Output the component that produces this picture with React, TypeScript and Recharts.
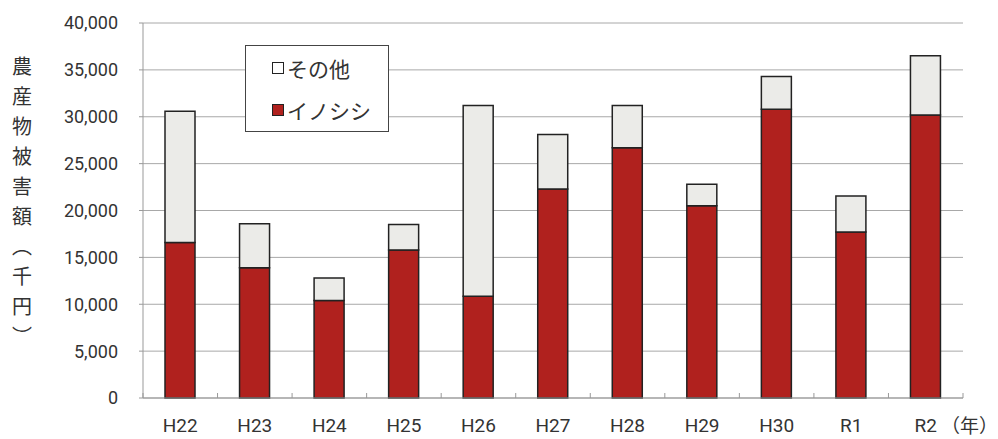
import {
  BarChart,
  Bar,
  XAxis,
  YAxis,
  CartesianGrid,
} from "recharts";

const years = ["H22", "H23", "H24", "H25", "H26", "H27", "H28", "H29", "H30", "R1", "R2"];
const inoshishi = [16600, 13900, 10400, 15800, 10850, 22300, 26700, 20500, 30800, 17700, 30200];
const others = [14000, 4700, 2400, 2700, 20350, 5800, 4500, 2300, 3500, 3850, 6300];
const yTicks = [0, 5000, 10000, 15000, 20000, 25000, 30000, 35000, 40000];

const data = years.map((name, i) => ({
  name,
  inoshishi: inoshishi[i],
  other: others[i],
}));

const RED = "#b0211e";
const GRAY = "#ebebe8";
const EDGE = "#222";
const AXIS = "#999";
const NUM_FONT = "Roboto, 'Noto Sans CJK JP', sans-serif";
const JP_FONT = "'Noto Sans CJK JP', sans-serif";

const W = 998;
const H = 439;
const MARGIN = { top: 23, right: 35, bottom: 0, left: 83 };
const Y_AXIS_W = 60;
const STEP = (W - MARGIN.left - MARGIN.right - Y_AXIS_W) / years.length;

const legendItems = [
  { label: "その他", fill: "#fff" },
  { label: "イノシシ", fill: RED },
];

const LegendBox = () => (
  <div
    style={{
      position: "absolute",
      left: 245,
      top: 45,
      width: 144,
      height: 87,
      border: "1px solid #444",
      background: "#fff",
      fontFamily: JP_FONT,
      fontSize: 21,
      color: "#333",
      boxSizing: "border-box",
      padding: "8px 0 0 26px",
    }}
  >
    {legendItems.map((item, i) => (
      <div
        key={item.label}
        style={{ display: "flex", alignItems: "center", height: 28, marginTop: i ? 14 : 0 }}
      >
        <span
          style={{
            display: "inline-block",
            width: 10,
            height: 10,
            border: "1.5px solid #222",
            background: item.fill,
            marginRight: 3,
          }}
        />
        {item.label}
      </div>
    ))}
  </div>
);

// year label plus the small upward marks at the category edges
const YearTick = ({ x, y, payload, index }: any) => {
  const axisY = y - 18;
  const left = x - STEP / 2;
  return (
    <g>
      <line x1={left} x2={left} y1={axisY} y2={axisY - 5} stroke={AXIS} />
      {index === years.length - 1 && (
        <line x1={left + STEP} x2={left + STEP} y1={axisY} y2={axisY - 5} stroke={AXIS} />
      )}
      <text
        x={x}
        y={y + 16}
        textAnchor="middle"
        fontFamily={NUM_FONT}
        fontSize={19}
        fill="#333"
      >
        {payload.value}
      </text>
    </g>
  );
};

export default function App() {
  return (
    <div style={{ position: "absolute", left: 0, top: 0, width: W, height: H, background: "#fff" }}>
      <BarChart width={W} height={H} data={data} margin={MARGIN} barSize={30}>
        <CartesianGrid vertical={false} stroke="#a8a8a8" strokeWidth={1} />
        <XAxis
          dataKey="name"
          height={41}
          axisLine={{ stroke: AXIS }}
          tickLine={false}
          tickSize={0}
          tickMargin={18}
          tick={<YearTick />}
          interval={0}
        />
        <YAxis
          width={Y_AXIS_W}
          domain={[0, 40000]}
          ticks={yTicks}
          interval={0}
          axisLine={{ stroke: AXIS }}
          tickLine={{ stroke: AXIS }}
          tickSize={4}
          tickMargin={21}
          tickFormatter={(v: number) => v.toLocaleString("en-US")}
          tick={{ fill: "#333", fontSize: 18, fontFamily: NUM_FONT }}
        />
        <Bar
          dataKey="inoshishi"
          name="イノシシ"
          stackId="a"
          fill={RED}
          stroke={EDGE}
          strokeWidth={1.5}
          isAnimationActive={false}
        />
        <Bar
          dataKey="other"
          name="その他"
          stackId="a"
          fill={GRAY}
          stroke={EDGE}
          strokeWidth={1.5}
          isAnimationActive={false}
        />
        <text
          x={22}
          y={56}
          style={{ writingMode: "vertical-rl" }}
          fontFamily={JP_FONT}
          fontSize={20}
          letterSpacing={10}
          fill="#333"
        >
          農産物被害額（千円）
        </text>
        <text x={941} y={433} fontFamily={JP_FONT} fontSize={19} fill="#333">
          （年）
        </text>
      </BarChart>
      <LegendBox />
    </div>
  );
}
